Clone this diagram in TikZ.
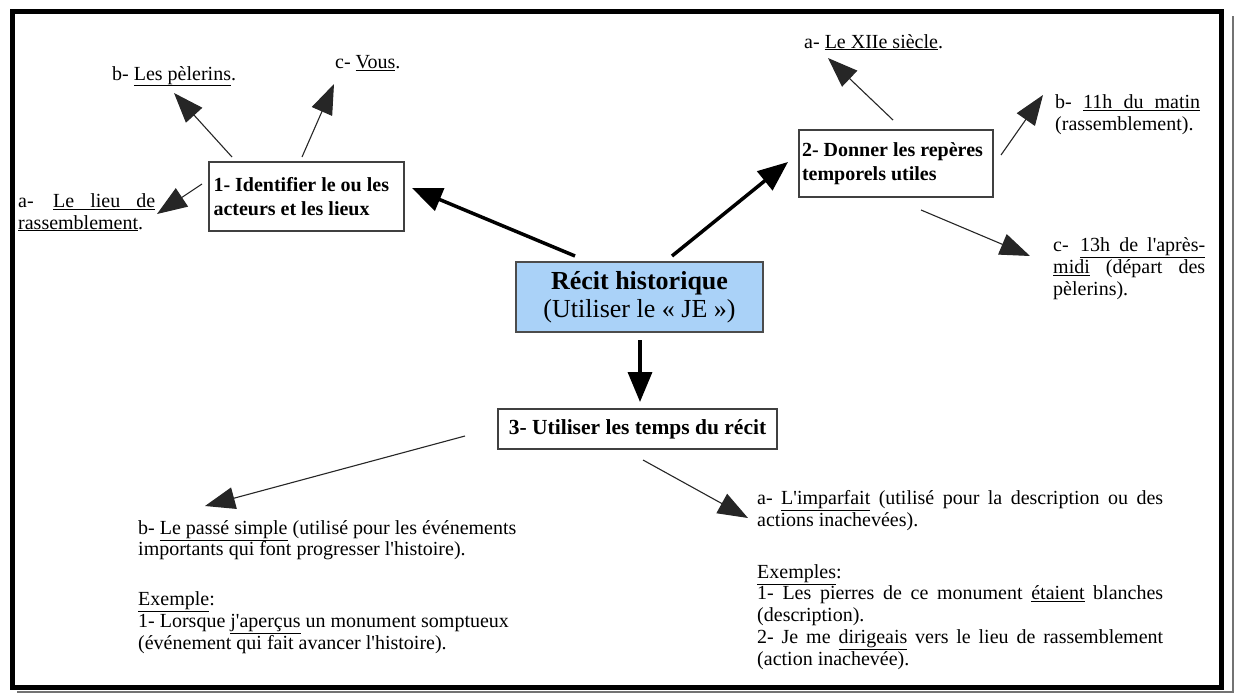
\documentclass[tikz,border=0pt]{standalone}
\usepackage{fontspec}
\setmainfont{Liberation Serif}[Ligatures=TeXOff]
\usetikzlibrary{arrows.meta}
\newcommand\Ul[1]{\underline{#1}}
\definecolor{centerblue}{RGB}{170,210,248}
\begin{document}
\begin{tikzpicture}[x=1pt,y=-1pt,
  txt/.style={anchor=base west, inner sep=0pt, align=left, font=\fontsize{20}{21.7}\selectfont},
  boxnode/.style={draw=black!75, line width=1.2pt, fill=white, inner sep=0pt, align=left, font=\bfseries\fontsize{20}{24}\selectfont},
  thickarrow/.style={line width=3.5pt, -{Triangle[length=30pt,width=24pt]}},
  thinarrow/.style={line width=1.1pt, black!85, -{Triangle[length=30pt,width=22pt]}}
]
\useasboundingbox (0,0) rectangle (1239,696);
% frame with shadow
\draw[black!55, line width=2pt] (1233,16) -- (1233,692) -- (17,692);
\draw[line width=5pt] (12,11) rectangle (1221,687);

% boxes
\node[boxnode, minimum width=195pt, minimum height=69pt] (b1) at (306.5,196.5) {\parbox{186pt}{1- Identifier le ou les\\acteurs et les lieux}};
\node[boxnode, minimum width=194pt, minimum height=67pt] (b2) at (896,163.5) {\parbox{188pt}{2- Donner les repères\\temporels utiles}};
\node[boxnode, fill=centerblue, draw=black!70, minimum width=247pt, minimum height=70pt, align=center, font=\fontsize{26}{28}\selectfont] (c) at (639.5,297) {\textbf{Récit historique}\\(Utiliser le « JE »)};
\node[boxnode, minimum width=279pt, minimum height=40pt, font=\bfseries\fontsize{21.5}{24}\selectfont] (b3) at (637.5,429) {3- Utiliser les temps du récit};

% labels of box 1
\node[txt] (l1b) at (112,80) {b- \Ul{Les pèlerins}.};
\node[txt] (l1c) at (335,68) {c- \Ul{Vous}.};
\node[txt] (l1a) at (18,229) {\makebox[137pt]{a-\hfill\Ul{\makebox[102pt][s]{Le lieu de}}}\\\Ul{rassemblement}.};

% labels of box 2
\node[txt] (l2a) at (804,48) {a- \Ul{Le XIIe siècle}.};
\node[txt] (l2b) at (1055,130) {\makebox[145pt]{b-\hfill\Ul{\makebox[117pt][s]{11h du matin}}}\\(rassemblement).};
\node[txt] (l2c) at (1053,295) {\makebox[152pt]{c-\hfill\Ul{\makebox[125pt][s]{13h de l'après-}}}\\\makebox[152pt][s]{\Ul{midi} (départ des}\\pèlerins).};

% labels of box 3
\node[txt] (l3b) at (138,649) {b- \Ul{Le passé simple} (utilisé pour les événements\\importants qui font progresser l'histoire).\\[28pt]\Ul{Exemple}:\\1- Lorsque \Ul{j'aperçus} un monument somptueux\\(événement qui fait avancer l'histoire).};
\node[txt] (l3a) at (757,665) {\makebox[406pt][s]{a- \Ul{L'imparfait} (utilisé pour la description ou des}\\actions inachevées).\\[30pt]\Ul{Exemples}:\\\makebox[406pt][s]{1- Les pierres de ce monument \Ul{étaient} blanches}\\(description).\\\makebox[406pt][s]{2- Je me \Ul{dirigeais} vers le lieu de rassemblement}\\(action inachevée).};

% connector coordinates
\coordinate (s1) at (575,256); \coordinate (e1) at (412,188);
\coordinate (s2) at (672,256); \coordinate (e2) at (788,162);
\coordinate (s3) at (640,340); \coordinate (e3) at (640,402);
\coordinate (s1b) at (232,157); \coordinate (e1b) at (174,93);
\coordinate (s1c) at (302,157); \coordinate (e1c) at (334,84);
\coordinate (s1a) at (202,184); \coordinate (e1a) at (157,214);
\coordinate (s2a) at (893,120); \coordinate (e2a) at (828,58);
\coordinate (s2b) at (1001,155); \coordinate (e2b) at (1043,95);
\coordinate (s2c) at (921,210); \coordinate (e2c) at (1030,256);
\coordinate (s3b) at (465,436); \coordinate (e3b) at (205,506);
\coordinate (s3a) at (643,460); \coordinate (e3a) at (748,518);

\draw[thickarrow] (s1) -- (e1);
\draw[thickarrow] (s2) -- (e2);
\draw[thickarrow] (s3) -- (e3);
\draw[thinarrow] (s1b) -- (e1b);
\draw[thinarrow] (s1c) -- (e1c);
\draw[thinarrow] (s1a) -- (e1a);
\draw[thinarrow] (s2a) -- (e2a);
\draw[thinarrow] (s2b) -- (e2b);
\draw[thinarrow] (s2c) -- (e2c);
\draw[thinarrow] (s3b) -- (e3b);
\draw[thinarrow] (s3a) -- (e3a);
\end{tikzpicture}
\end{document}
